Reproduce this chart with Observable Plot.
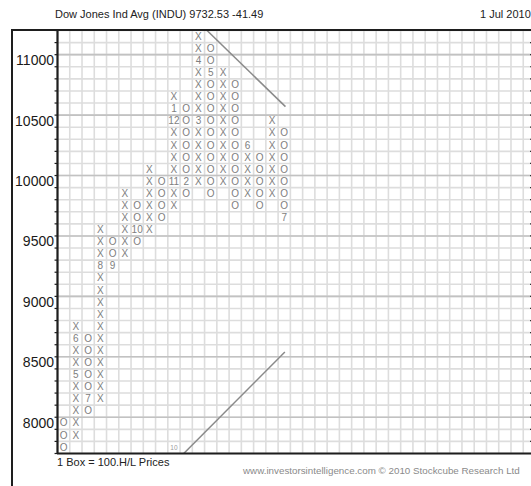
<!DOCTYPE html>
<html>
<head>
<meta charset="utf-8">
<script src="https://cdn.jsdelivr.net/npm/d3@7"></script>
<script src="https://cdn.jsdelivr.net/npm/@observablehq/plot@0.6"></script>
<style>
  html, body { margin: 0; padding: 0; background: #fff; overflow: hidden; }
  #page { position: relative; width: 531px; height: 486px; overflow: hidden; font-family: "Liberation Sans", Arial, sans-serif; }
  #title { position: absolute; left: 55px; top: 8px; font-size: 11px; line-height: 13px; color: #222; white-space: nowrap; }
  #date { position: absolute; left: 480px; top: 8px; font-size: 11px; line-height: 13px; color: #222; white-space: nowrap; }
  #chart { position: absolute; left: 0; top: 20px; }
  #frame { position: absolute; left: 11px; top: 29px; width: 530px; height: 470px; border-left: 2px solid #1e1e1e; border-top: 2px solid #1e1e1e; pointer-events: none; }
  #boxnote { position: absolute; left: 57px; top: 456px; font-size: 11px; line-height: 13px; color: #222; white-space: nowrap; }
  #credit { position: absolute; left: 243px; top: 465px; font-size: 9.8px; line-height: 12px; color: #8a8a8a; white-space: nowrap; }
</style>
</head>
<body>
<div id="page">
  <div id="title">Dow Jones Ind Avg (INDU) 9732.53 -41.49</div>
  <div id="date">1 Jul 2010</div>
  <div id="chart"></div>
  <div id="frame"></div>
  <div id="boxnote">1 Box = 100.H/L Prices</div>
  <div id="credit">www.investorsintelligence.com © 2010 Stockcube Research Ltd</div>
</div>
<script>
// Point & Figure columns (box size 100)
const columnType = ["O","X","O","X","O","X","O","X","O","X","O","X","O","X","O","X","O","X","O"];
const columnLow  = [7800, 7900, 8100, 8200, 9300, 9400, 9500, 9600, 9700, 9800, 9900, 10000, 9900, 10000, 9800, 9900, 9800, 9900, 9700];
const columnHigh = [8000, 8800, 8700, 9600, 9500, 9900, 9800, 10100, 10000, 10700, 10600, 11200, 11100, 10900, 10800, 10300, 10200, 10500, 10400];

// Month markers that replace a box
const monthColumn = [1, 1, 2, 3, 4, 6, 9, 9, 9, 10, 11, 11, 12, 15, 18];
const monthPrice  = [8700, 8400, 8200, 9300, 9300, 9600, 10000, 10500, 10600, 10000, 10500, 11000, 10900, 10300, 9700];
const monthLabel  = ["6", "5", "7", "8", "9", "10", "11", "12", "1", "2", "3", "4", "5", "6", "7"];

// Small note at bottom
const noteColumn = [9];
const notePrice = [7800];
const noteLabel = ["10"];

// Trend lines (column position, price)
const trendX1 = [12.2, 10.3];
const trendY1 = [11250, 7750];
const trendX2 = [18.6, 18.55];
const trendY2 = [10620, 8590];

// Axis labels
const yTickLabels = [8000, 8500, 9000, 9500, 10000, 10500, 11000];
const boxSize = 100;
const priceMin = 7750, priceMax = 11250;
const columnCount = 39;

// Build table of boxes
const boxes = [];
columnType.forEach((t, i) => {
  for (let v = columnLow[i]; v <= columnHigh[i]; v += boxSize) {
    const m = monthColumn.findIndex((c, k) => c === i && monthPrice[k] === v);
    boxes.push({col: i + 0.5, price: v, label: m >= 0 ? monthLabel[m] : t});
  }
});
const notes = noteColumn.map((c, i) => ({col: c + 0.5, price: notePrice[i], label: noteLabel[i]}));
const trends = trendX1.map((x, i) => ({x1: x, y1: trendY1[i], x2: trendX2[i], y2: trendY2[i]}));

const gridY = d3.range(priceMin, priceMax + 1, boxSize);
const gridX = d3.range(0, columnCount + 1);
const gridYDark = yTickLabels.map(v => v + boxSize / 2);

const chart = Plot.plot({
  width: 531,
  height: 466,
  marginTop: 10,
  marginBottom: 33,
  marginLeft: 57,
  marginRight: -4,
  style: {fontFamily: "'Liberation Sans', Arial, sans-serif", background: "transparent", overflow: "hidden"},
  x: {domain: [0, columnCount], axis: null},
  y: {domain: [priceMin, priceMax], axis: null},
  marks: [
    Plot.ruleX(gridX, {stroke: "#dddddd", strokeWidth: 1.6}),
    Plot.ruleY(gridY, {stroke: "#dddddd", strokeWidth: 1.6}),
    Plot.ruleY(gridYDark, {stroke: "#c2c2c2", strokeWidth: 1.6}),
    Plot.link(trends, {x1: "x1", y1: "y1", x2: "x2", y2: "y2", stroke: "#8a8a8a", strokeWidth: 1.5, clip: true}),
    Plot.text(boxes, {x: "col", y: "price", text: "label", fill: "#7e7e7e", fontSize: 10}),
    Plot.text(notes, {x: "col", y: "price", text: "label", fill: "#9a9a9a", fontSize: 6.5}),
    Plot.ruleY(gridY, {x1: -0.2, x2: 0, stroke: "#1e1e1e", strokeWidth: 1.2}),
    Plot.ruleY(gridY, {x1: 38.6, x2: columnCount, stroke: "#1e1e1e", strokeWidth: 1.2}),
    Plot.ruleX([0], {stroke: "#1e1e1e", strokeWidth: 2.2}),
    Plot.ruleY([priceMin], {stroke: "#1e1e1e", strokeWidth: 2.2}),
    Plot.axisY(yTickLabels, {anchor: "left", tickSize: 0, tickPadding: 3.5, fontSize: 14, tickFormat: "d", label: null, fill: "#1a1a1a"})
  ]
});
document.getElementById("chart").appendChild(chart);
</script>
</body>
</html>
